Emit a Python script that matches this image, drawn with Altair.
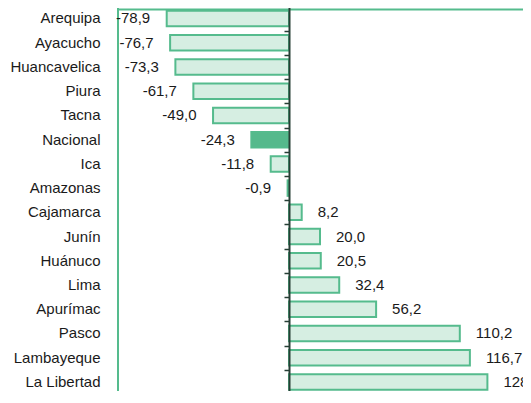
import altair as alt
import pandas as pd

regions = ["Arequipa", "Ayacucho", "Huancavelica", "Piura", "Tacna", "Nacional",
           "Ica", "Amazonas", "Cajamarca", "Junín", "Huánuco", "Lima", "Apurímac",
           "Pasco", "Lambayeque", "La Libertad"]
values = [-78.9, -76.7, -73.3, -61.7, -49.0, -24.3, -11.8, -0.9, 8.2, 20.0, 20.5,
          32.4, 56.2, 110.2, 116.7, 128.0]
highlight = "Nacional"

GREEN = "#55bb8d"
LIGHT = "#d6eee2"
DARK = "#55b98c"
TEXT = "#1a1a1a"
AXIS = "#263f35"
FONT = "Liberation Sans"

df = pd.DataFrame({"region": regions, "value": values})
df["label"] = [f"{v:.1f}".replace(".", ",") for v in values]
df["kind"] = ["hl" if r == highlight else "base" for r in regions]

# layout
LEFT = 109.5
TOP = 1
W, H = 515 - LEFT, 382
PX_PER_UNIT = 1.55
ZERO_FROM_LEFT = 171.5
X_MIN = -ZERO_FROM_LEFT / PX_PER_UNIT
X_MAX = X_MIN + W / PX_PER_UNIT
STEP = 24.23
R0 = -2.62
R1 = R0 + STEP * len(regions)

x_enc = alt.X("value:Q",
              scale=alt.Scale(domain=[X_MIN, X_MAX], nice=False, zero=False),
              axis=alt.Axis(orient="top", labels=False, ticks=False, grid=False,
                            title=None, domainColor=GREEN, domainWidth=2))

y_scale = alt.Scale(range=[R0, R1], paddingInner=0, paddingOuter=0)

y_labels = alt.Y("region:N", sort=regions, scale=y_scale,
                 axis=alt.Axis(orient="left", title=None, ticks=False, domain=True,
                               domainColor=GREEN, domainWidth=2, labelPadding=17.5,
                               labelFont=FONT, labelFontSize=15, labelColor=TEXT))

y_ticks = alt.Y("region:N", sort=regions,
                axis=alt.Axis(orient="left", title=None, labels=False, ticks=True,
                              tickBand="extent", tickSize=5, tickWidth=1.5,
                              tickColor=AXIS, domain=True, domainColor=AXIS,
                              domainWidth=2, offset=-ZERO_FROM_LEFT, zindex=1))

y_plain = alt.Y("region:N", sort=regions, axis=None)

base = alt.Chart(df)

bars = base.mark_bar(size=15.5, stroke=GREEN, strokeWidth=2).encode(
    x=x_enc,
    y=y_labels,
    fill=alt.Fill("kind:N", scale=alt.Scale(domain=["base", "hl"], range=[LIGHT, DARK]),
                  legend=None),
)

neg = base.transform_filter("datum.value < 0").mark_text(
    align="right", baseline="middle", dx=-16.5, font=FONT, fontSize=15, color=TEXT
).encode(x=x_enc, y=y_plain, text="label:N")

pos = base.transform_filter("datum.value >= 0").mark_text(
    align="left", baseline="middle", dx=16, font=FONT, fontSize=15, color=TEXT
).encode(x=x_enc, y=y_ticks, text="label:N")

chart = alt.layer(bars, neg, pos).resolve_axis(y="independent").properties(
    width=W, height=H,
    autosize=alt.AutoSizeParams(type="none"),
    padding={"left": LEFT, "top": TOP, "right": 0, "bottom": 0},
).configure_view(stroke=None).configure(background="white")

chart.save("out.html", embed_options={"renderer": "svg", "actions": False})
